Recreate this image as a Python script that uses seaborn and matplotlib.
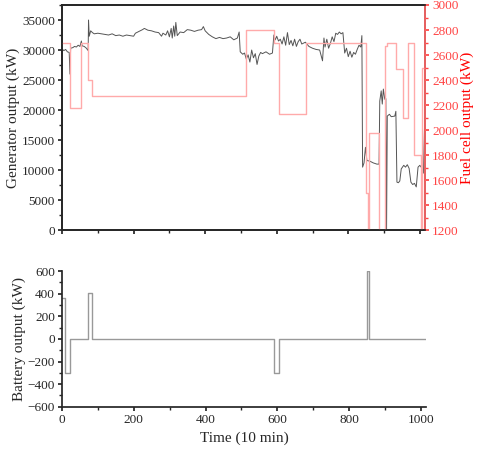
import matplotlib
matplotlib.use("Agg")
import matplotlib.pyplot as plt
import seaborn as sns
import numpy as np
import pandas as pd
from matplotlib.ticker import MultipleLocator

gen_t = [0,5,10,15,20,22,24,30,35,40,45,50,54,56,62,68,73,74,76,80,85,90,100,110,120,130,140,150,160,170,180,190,200,205,215,225,230,240,250,260,270,278,282,290,295,300,305,308,312,315,318,322,330,340,350,360,370,380,390,395,400,410,420,430,440,450,460,470,480,490,495,498,505,510,515,520,525,530,535,540,545,550,555,560,570,580,588,592,596,600,605,610,615,620,625,630,635,640,645,650,655,660,665,670,680,690,700,710,720,728,732,735,740,745,750,755,760,765,770,775,780,785,790,795,800,805,810,815,820,825,830,835,838,840,844,848,852,860,870,880,886,888,892,895,898,902,905,907,909,915,920,930,933,936,940,944,948,955,960,965,970,975,980,985,990,995,1000,1005,1010,1015]
gen_v = [30200,29900,30100,29700,29600,26000,30300,30400,30600,30500,30800,30600,31500,30700,30600,30300,29900,35000,32300,33200,32900,32700,32800,32700,32600,32500,32700,32400,32500,32300,32500,32400,32300,32800,33100,33400,33600,33300,33200,33000,32900,32300,32800,32500,33200,32200,33600,32000,34000,32300,34600,32400,33000,32900,33400,33300,33100,33300,33400,33900,33200,32600,32200,31900,32100,31900,32000,32200,31700,32000,33000,29700,29300,29500,28500,29200,28000,30000,28700,29400,27600,29000,29600,29400,29700,29300,29500,32500,31700,32300,31500,31800,31000,32200,30800,32900,30900,31600,30700,31800,30600,31400,31800,31000,31300,30600,30300,30100,30000,28200,32000,30500,31800,30300,31100,32200,31400,32800,32600,33000,32700,32900,29500,30300,28900,29800,28800,29600,29300,30100,30800,30500,32400,10500,11200,13800,11600,11500,11200,11000,11000,21500,23200,21000,23500,21800,21900,0,19000,19300,18900,19000,19800,8000,7900,8200,10200,10800,10500,10900,10300,8000,7600,7800,7200,10500,10800,10400,9500,22000]

fc_t = [0,22,54,73,84,514,591,606,681,849,856,858,887,904,908,932,953,967,984,1002,1006,1015]
fc_v = [2700,2180,2700,2400,2270,2800,2700,2130,2700,1500,1200,1980,1200,2670,2700,2490,2100,2700,1800,1200,2500,2500]

bat_t = [0,7,22,72,84,590,604,850,856,1015]
bat_v = [360,-300,0,410,0,-300,0,600,0,0]

sns.set_theme(style="ticks")
plt.rcParams['font.family'] = ['Liberation Serif', 'DejaVu Serif']

fig = plt.figure(figsize=(4.81, 4.54), dpi=100)
ax1 = fig.add_axes([0.129, 0.493, 0.755, 0.496])
ax3 = fig.add_axes([0.129, 0.104, 0.757, 0.299])

sns.lineplot(x=gen_t, y=gen_v, ax=ax1, color="#555555", lw=0.7)
ax1.set_xlim(0, 1015)
ax1.set_ylim(0, 37500)
ax1.yaxis.set_major_locator(MultipleLocator(5000))
ax1.yaxis.set_minor_locator(MultipleLocator(2500))
ax1.xaxis.set_major_locator(MultipleLocator(200))
ax1.xaxis.set_minor_locator(MultipleLocator(100))
ax1.set_xticklabels([])
ax1.set_ylabel("Generator output (kW)", fontsize=11, labelpad=1)
ax1.tick_params(labelsize=9.5, length=3, pad=2)
ax1.tick_params(which='minor', length=2)

ax2 = ax1.twinx()
ax2.step(fc_t, fc_v, where='post', color="#ffaaaa", lw=1.0)
ax2.set_ylim(1200, 3000)
ax2.yaxis.set_major_locator(MultipleLocator(200))
ax2.yaxis.set_minor_locator(MultipleLocator(100))
ax2.set_ylabel("Fuel cell output (kW)", color="red", fontsize=11, labelpad=1)
ax2.tick_params(axis='y', colors="#ff4444", labelsize=9.5, length=3, pad=2)
ax2.tick_params(which='minor', length=2, colors="#ff4444")
ax2.spines['right'].set_color("#ff6666")
ax2.yaxis.label.set_color("red")

ax3.step(bat_t, bat_v, where='post', color="#999999", lw=1.0)
ax3.set_xlim(0, 1015)
ax3.set_ylim(-600, 600)
ax3.yaxis.set_major_locator(MultipleLocator(200))
ax3.yaxis.set_minor_locator(MultipleLocator(100))
ax3.xaxis.set_major_locator(MultipleLocator(200))
ax3.xaxis.set_minor_locator(MultipleLocator(100))
ax3.set_ylabel("Battery output (kW)", fontsize=11, labelpad=1)
ax3.set_xlabel("Time (10 min)", fontsize=11)
ax3.tick_params(labelsize=9.5, length=3, pad=2)
ax3.tick_params(which='minor', length=2)
sns.despine(ax=ax3)

fig.savefig("out.png", dpi=100)
